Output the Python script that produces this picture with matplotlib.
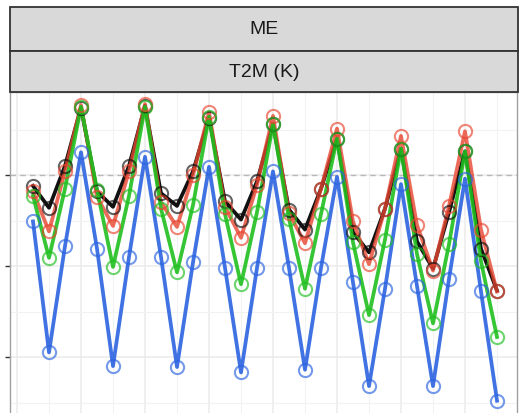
import numpy as np
import matplotlib
matplotlib.use("Agg")
import matplotlib.pyplot as plt
from matplotlib.patches import Rectangle

# Lead time (hours) and mean error of 2 m temperature for four runs
lead_hours = np.arange(6, 181, 6)

me_black = [-0.12, -0.36, 0.10, 0.74, -0.18, -0.35, 0.10, 0.76, -0.20, -0.34,
            0.04, 0.63, -0.29, -0.49, -0.07, 0.56, -0.38, -0.60, -0.15, 0.40,
            -0.63, -0.85, -0.37, 0.29, -0.73, -1.03, -0.41, 0.26, -0.81, -1.27]
me_red = [-0.18, -0.62, 0.04, 0.77, -0.24, -0.56, 0.04, 0.78, -0.30, -0.57,
          0.00, 0.69, -0.35, -0.69, -0.11, 0.65, -0.42, -0.75, -0.15, 0.51,
          -0.51, -0.98, -0.37, 0.43, -0.55, -1.05, -0.34, 0.48, -0.60, -1.28]
me_green = [-0.23, -0.91, -0.15, 0.75, -0.16, -1.01, -0.23, 0.75, -0.37, -1.07,
            -0.33, 0.64, -0.43, -1.20, -0.41, 0.56, -0.48, -1.25, -0.43, 0.40,
            -0.74, -1.54, -0.71, 0.29, -0.87, -1.63, -0.76, 0.26, -0.95, -1.78]
me_blue = [-0.51, -1.95, -0.78, 0.25, -0.81, -2.10, -0.90, 0.20, -0.90, -2.11,
           -0.96, 0.09, -1.02, -2.17, -1.02, 0.04, -1.02, -2.14, -1.02, -0.02,
           -1.18, -2.32, -1.25, -0.10, -1.22, -2.32, -1.14, -0.04, -1.28, -2.48]

W, H = 520, 414
fig = plt.figure(figsize=(W / 100, H / 100), dpi=100)
plt.rcParams["font.family"] = ["Liberation Sans", "DejaVu Sans"]

def px_box(x0, y0, x1, y1):
    return [x0 / W, 1 - y1 / H, (x1 - x0) / W, (y1 - y0) / H]

ax = fig.add_axes(px_box(10, 93, 517, 436))
ax.set_facecolor("white")

xmin = 6 + (10 - 33) / (16 / 6)
xmax = 6 + (517 - 33) / (16 / 6)
ax.set_xlim(xmin, xmax)
ytop = (176 - 93) / 91
ybot = (176 - 436) / 91
ax.set_ylim(ybot, ytop)

ax.set_xticks(np.arange(0, 181, 24))
ax.set_xticks(np.arange(12, 181, 24), minor=True)
ax.set_yticks([0, -1, -2])
ax.set_yticks([0.5, -0.5, -1.5, -2.5], minor=True)
ax.grid(which="major", color="#EBEBEB", lw=1.1)
ax.grid(which="minor", color="#F2F2F2", lw=0.8)
ax.set_axisbelow(True)
ax.tick_params(axis="y", which="major", length=3.5, width=1, color="#333333",
               labelleft=False)
ax.tick_params(axis="y", which="minor", length=0)
ax.tick_params(axis="x", which="both", length=0, labelbottom=False)
for side, sp in ax.spines.items():
    sp.set_color("#A0A0A0")
    sp.set_linewidth(1)

ax.axhline(0, color="#B8B8B8", lw=1, ls=(0, (4, 3)), zorder=1)

series = [
    (me_black, "#111111", 1.0),
    (me_red, "#E8452F", 0.8),
    (me_green, "#1FBF1F", 0.9),
    (me_blue, "#2B63E0", 0.9),
]
for vals, col, a in series:
    ax.plot(lead_hours, vals, color=col, lw=2.7, alpha=a, zorder=3)
    ax.plot(lead_hours, vals, ls="none", marker="o", ms=9.5, mfc="none",
            mec=col, mew=1.5, alpha=0.65, zorder=4)

# facet strips
for (y0, y1, label) in [(8, 52, "ME"), (52, 93, "T2M (K)")]:
    fig.patches.append(Rectangle((10 / W, 1 - y1 / H), 508 / W, (y1 - y0) / H,
                                 transform=fig.transFigure, facecolor="#D9D9D9",
                                 edgecolor="#333333", lw=1.3))
    fig.text(264 / W, 1 - (y0 + y1) / 2 / H, label, ha="center", va="center",
             fontsize=14, color="#1A1A1A")

fig.savefig("out.png", dpi=100)
